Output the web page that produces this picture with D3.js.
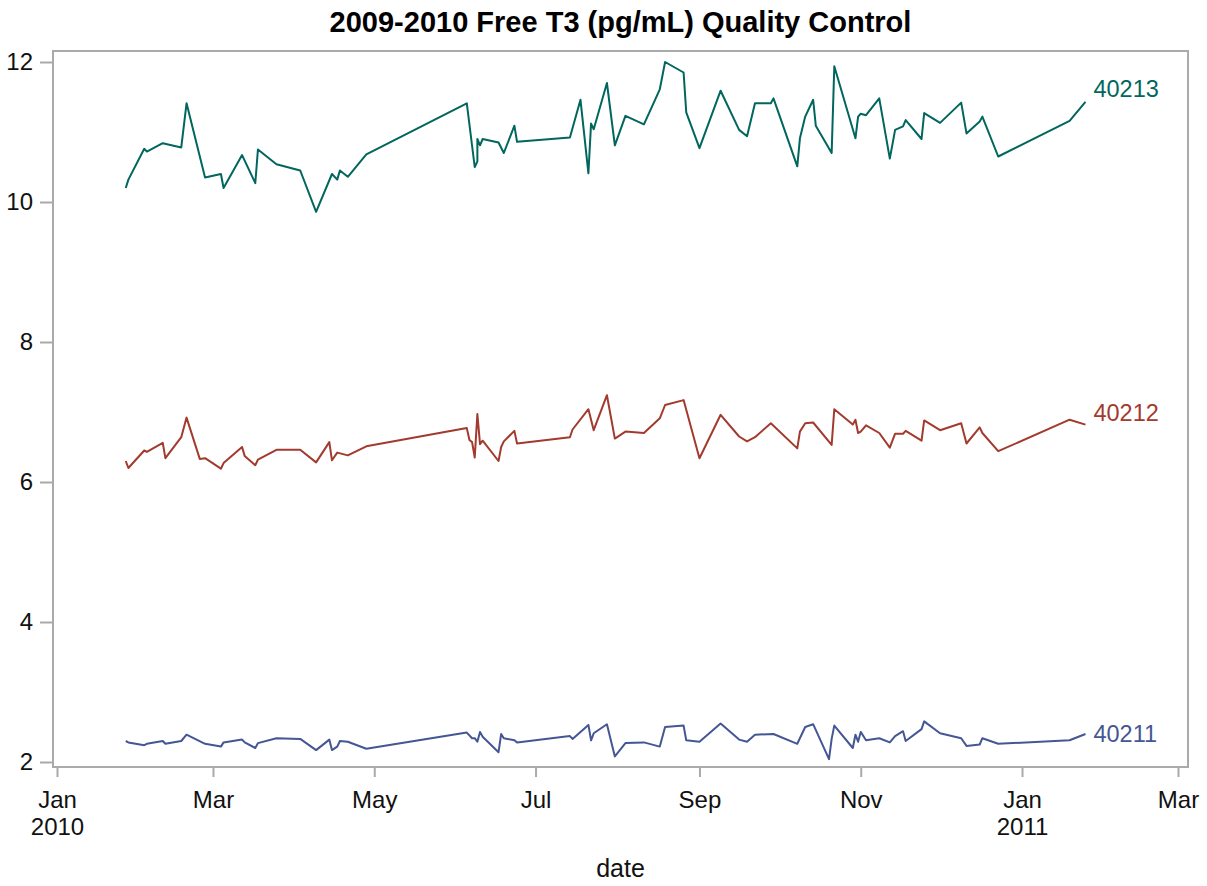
<!DOCTYPE html>
<html>
<head>
<meta charset="utf-8">
<script src="https://cdn.jsdelivr.net/npm/d3@7"></script>
<style>
  body { margin: 0; background: #fff; }
  svg { font-family: "Liberation Sans", Arial, sans-serif; }
</style>
</head>
<body>
<div id="chart"></div>
<script>
// level 3 control (40213)
const dates40213 = ["2010-01-27","2010-01-28","2010-02-03","2010-02-04","2010-02-10","2010-02-17","2010-02-19","2010-02-26",
  "2010-03-04","2010-03-05","2010-03-12","2010-03-17","2010-03-18","2010-03-25","2010-04-03","2010-04-09","2010-04-15",
  "2010-04-17","2010-04-18","2010-04-21","2010-04-28","2010-06-05","2010-06-08","2010-06-09","2010-06-09","2010-06-10",
  "2010-06-11","2010-06-17","2010-06-19","2010-06-23","2010-06-24","2010-07-14","2010-07-18","2010-07-21","2010-07-22",
  "2010-07-23","2010-07-28","2010-07-31","2010-08-04","2010-08-11","2010-08-17","2010-08-19","2010-08-26","2010-08-27",
  "2010-09-01","2010-09-09","2010-09-16","2010-09-19","2010-09-22","2010-09-28","2010-09-29","2010-10-08","2010-10-09",
  "2010-10-11","2010-10-14","2010-10-15","2010-10-21","2010-10-22","2010-10-30","2010-10-31","2010-11-01","2010-11-03",
  "2010-11-08","2010-11-12","2010-11-14","2010-11-17","2010-11-18","2010-11-24","2010-11-25","2010-12-01","2010-12-09",
  "2010-12-11","2010-12-16","2010-12-17","2010-12-23","2011-01-19","2011-01-25"];
const values40213 = [10.20,10.32,10.76,10.72,10.84,10.78,11.41,10.35,
  10.40,10.20,10.67,10.27,10.75,10.54,10.45,9.86,10.40,
  10.32,10.45,10.36,10.68,11.41,10.50,10.58,10.90,10.81,
  10.90,10.85,10.70,11.09,10.86,10.92,11.46,10.41,11.12,
  11.04,11.70,10.81,11.23,11.11,11.61,12.00,11.85,11.28,
  10.77,11.59,11.03,10.94,11.41,11.41,11.48,10.51,10.91,
  11.22,11.46,11.09,10.70,11.94,10.91,11.22,11.26,11.24,
  11.48,10.62,11.03,11.08,11.17,10.90,11.27,11.13,11.42,
  10.98,11.15,11.22,10.65,11.16,11.43];

// level 2 control (40212)
const dates40212 = ["2010-01-27","2010-01-28","2010-02-03","2010-02-04","2010-02-10","2010-02-11","2010-02-17","2010-02-19",
  "2010-02-24","2010-02-26","2010-03-04","2010-03-05","2010-03-12","2010-03-13","2010-03-17","2010-03-18","2010-03-25",
  "2010-04-03","2010-04-09","2010-04-14","2010-04-15","2010-04-17","2010-04-21","2010-04-28","2010-06-05","2010-06-06",
  "2010-06-07","2010-06-08","2010-06-09","2010-06-10","2010-06-11","2010-06-17","2010-06-18","2010-06-19","2010-06-23",
  "2010-06-24","2010-07-14","2010-07-15","2010-07-21","2010-07-23","2010-07-28","2010-07-31","2010-08-04","2010-08-11",
  "2010-08-17","2010-08-19","2010-08-26","2010-09-01","2010-09-09","2010-09-16","2010-09-19","2010-09-22","2010-09-28",
  "2010-10-08","2010-10-09","2010-10-11","2010-10-14","2010-10-21","2010-10-22","2010-10-29","2010-10-30","2010-10-31",
  "2010-11-01","2010-11-03","2010-11-08","2010-11-12","2010-11-14","2010-11-17","2010-11-18","2010-11-24","2010-11-25",
  "2010-12-01","2010-12-09","2010-12-11","2010-12-16","2010-12-17","2010-12-23","2011-01-19","2011-01-25"];
const values40212 = [6.30,6.20,6.45,6.43,6.56,6.34,6.64,6.92,
  6.33,6.34,6.19,6.27,6.50,6.37,6.24,6.32,6.46,
  6.46,6.28,6.57,6.31,6.42,6.38,6.51,6.77,6.60,
  6.57,6.35,6.97,6.54,6.59,6.30,6.50,6.58,6.73,
  6.55,6.64,6.75,7.04,6.74,7.24,6.62,6.72,6.70,
  6.91,7.10,7.17,6.34,6.96,6.65,6.58,6.64,6.84,
  6.48,6.72,6.84,6.85,6.53,7.04,6.82,6.89,6.70,
  6.72,6.81,6.70,6.49,6.69,6.69,6.73,6.59,6.88,
  6.74,6.84,6.55,6.78,6.70,6.44,6.89,6.82];

// level 1 control (40211)
const dates40211 = ["2010-01-27","2010-01-28","2010-02-03","2010-02-04","2010-02-10","2010-02-11","2010-02-17","2010-02-19",
  "2010-02-26","2010-03-04","2010-03-05","2010-03-12","2010-03-13","2010-03-17","2010-03-18","2010-03-25","2010-04-03",
  "2010-04-09","2010-04-14","2010-04-15","2010-04-17","2010-04-18","2010-04-21","2010-04-28","2010-06-05","2010-06-07",
  "2010-06-08","2010-06-09","2010-06-10","2010-06-11","2010-06-17","2010-06-18","2010-06-19","2010-06-23","2010-06-24",
  "2010-07-14","2010-07-15","2010-07-21","2010-07-22","2010-07-23","2010-07-28","2010-07-31","2010-08-04","2010-08-11",
  "2010-08-17","2010-08-19","2010-08-26","2010-08-27","2010-09-01","2010-09-09","2010-09-16","2010-09-19","2010-09-22",
  "2010-09-29","2010-10-08","2010-10-11","2010-10-14","2010-10-20","2010-10-21","2010-10-22","2010-10-29","2010-10-30",
  "2010-10-31","2010-11-01","2010-11-03","2010-11-08","2010-11-12","2010-11-14","2010-11-17","2010-11-18","2010-11-24",
  "2010-11-25","2010-12-01","2010-12-09","2010-12-11","2010-12-16","2010-12-17","2010-12-23","2011-01-19","2011-01-25"];
const values40211 = [2.30,2.28,2.24,2.26,2.30,2.26,2.30,2.39,
  2.26,2.22,2.28,2.32,2.28,2.20,2.27,2.34,2.33,
  2.17,2.32,2.17,2.22,2.30,2.29,2.19,2.42,2.34,
  2.34,2.29,2.43,2.36,2.14,2.40,2.34,2.31,2.28,
  2.37,2.33,2.53,2.31,2.41,2.54,2.08,2.27,2.28,
  2.22,2.50,2.52,2.31,2.29,2.55,2.32,2.29,2.39,
  2.40,2.26,2.50,2.54,2.04,2.33,2.52,2.20,2.39,
  2.29,2.43,2.31,2.34,2.28,2.37,2.44,2.30,2.47,
  2.58,2.41,2.34,2.23,2.25,2.34,2.26,2.31,2.40];

const seriesNames = ["40211", "40212", "40213"];
const yTicks = [2, 4, 6, 8, 10, 12];
const xTickDates = ["2010-01-01","2010-03-01","2010-05-01","2010-07-01","2010-09-01","2010-11-01","2011-01-01","2011-03-01"];
const xTickLabels = [["Jan","2010"],["Mar"],["May"],["Jul"],["Sep"],["Nov"],["Jan","2011"],["Mar"]];

const colors = ["#445694", "#A23A2E", "#01665E"];
const labelDy = ["0.35em", "-0.15em", "-0.2em"];

const width = 1207;
const height = 886;
const frame = { left: 53, top: 51, right: 1188, bottom: 767 };

const parseDate = d3.timeParse("%Y-%m-%d");

function buildSeries() {
    const allDates = [dates40211, dates40212, dates40213];
    const allValues = [values40211, values40212, values40213];
    return seriesNames.map((name, i) => ({
        name: name,
        color: colors[i],
        dy: labelDy[i],
        points: allDates[i].map((d, j) => ({ date: parseDate(d), value: allValues[i][j] }))
    }));
}

function drawChart() {
    const series = buildSeries();

    const x = d3.scaleTime()
        .domain([parseDate("2010-01-01"), parseDate("2011-03-01")])
        .range([57, 1178]);

    const y = d3.scaleLinear()
        .domain([2, 12])
        .range([762, 62]);

    const svg = d3.select("#chart")
        .append("svg")
        .attr("width", width)
        .attr("height", height);

    // title
    svg.append("text")
        .attr("x", (frame.left + frame.right) / 2)
        .attr("y", 32)
        .attr("text-anchor", "middle")
        .attr("font-size", 29)
        .attr("font-weight", "bold")
        .attr("fill", "#000")
        .text("2009-2010 Free T3 (pg/mL) Quality Control");

    // y axis
    const yAxis = svg.append("g")
        .attr("transform", `translate(${frame.left},0)`)
        .call(d3.axisLeft(y).tickValues(yTicks).tickSize(13).tickSizeOuter(0).tickPadding(7));
    yAxis.select(".domain").remove();
    yAxis.selectAll(".tick line").attr("stroke", "#aaa").attr("stroke-width", 2);
    yAxis.selectAll(".tick text")
        .attr("font-size", 24)
        .attr("fill", "#111")
        .attr("font-family", "Liberation Sans, Arial, sans-serif");

    // x axis
    const xAxis = svg.append("g")
        .attr("transform", `translate(0,${frame.bottom})`)
        .call(d3.axisBottom(x).tickValues(xTickDates.map(parseDate)).tickSize(10).tickSizeOuter(0).tickPadding(0));
    xAxis.select(".domain").remove();
    xAxis.selectAll(".tick line").attr("stroke", "#aaa").attr("stroke-width", 2);
    xAxis.selectAll(".tick text")
        .attr("font-size", 24)
        .attr("fill", "#111")
        .attr("font-family", "Liberation Sans, Arial, sans-serif")
        .attr("dy", null)
        .attr("y", 0)
        .text("")
        .each(function(d, i) {
            const t = d3.select(this);
            xTickLabels[i].forEach((line, k) => {
                t.append("tspan")
                    .attr("x", 0)
                    .attr("y", 41 + k * 27)
                    .text(line);
            });
        });

    // x axis title
    svg.append("text")
        .attr("x", (frame.left + frame.right) / 2)
        .attr("y", 877)
        .attr("text-anchor", "middle")
        .attr("font-size", 25)
        .attr("fill", "#111")
        .text("date");

    // frame
    svg.append("rect")
        .attr("x", frame.left)
        .attr("y", frame.top)
        .attr("width", frame.right - frame.left)
        .attr("height", frame.bottom - frame.top)
        .attr("fill", "none")
        .attr("stroke", "#aaa")
        .attr("stroke-width", 2);

    const line = d3.line()
        .x(d => x(d.date))
        .y(d => y(d.value));

    const groups = svg.selectAll(".series")
        .data(series)
        .enter()
        .append("g")
        .attr("class", "series");

    groups.append("path")
        .attr("d", d => line(d.points))
        .attr("fill", "none")
        .attr("stroke", d => d.color)
        .attr("stroke-width", 2)
        .attr("stroke-linejoin", "round");

    // curve labels at the end of each line
    groups.append("text")
        .attr("x", d => x(d.points[d.points.length - 1].date) + 8)
        .attr("y", d => y(d.points[d.points.length - 1].value))
        .attr("dy", d => d.dy)
        .attr("font-size", 23.5)
        .attr("fill", d => d.color)
        .text(d => d.name);
}

drawChart();
</script>
</body>
</html>
